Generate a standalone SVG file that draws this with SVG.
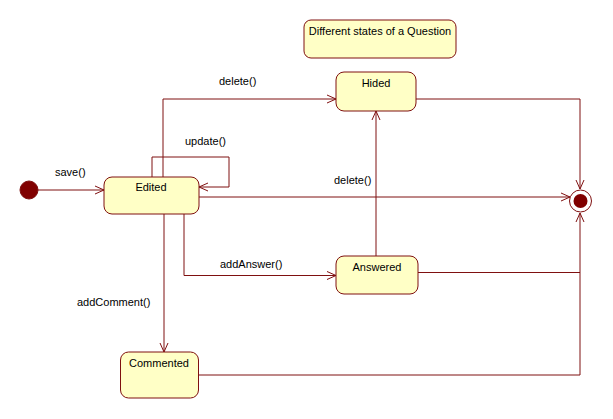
<svg xmlns="http://www.w3.org/2000/svg" width="613" height="419" viewBox="0 0 613 419">
<style>
.st{fill:#ffffc6;stroke:#7f1010;stroke-width:1}
.ln{fill:none;stroke:#7f1010;stroke-width:1}
text{font-family:"Liberation Sans",Arial,sans-serif;font-size:11px;fill:#000}
.c{text-anchor:middle}
</style>
<defs>
<marker id="ar" viewBox="0 0 10 10" refX="10" refY="5" markerWidth="10" markerHeight="10" markerUnits="userSpaceOnUse" orient="auto">
<path d="M1,1 L10,5 L1,9" fill="none" stroke="#7f1010" stroke-width="1"/>
</marker>
</defs>
<rect width="613" height="419" fill="#fff"/>
<g id="connectors">
<line class="ln" x1="38" y1="190" x2="104" y2="190" marker-end="url(#ar)"/>
<polyline class="ln" points="152,177 152,157 229,157 229,187 199,187" marker-end="url(#ar)"/>
<polyline class="ln" points="163,177 163,99 336,99" marker-end="url(#ar)"/>
<line class="ln" x1="199" y1="197" x2="570" y2="197" marker-end="url(#ar)"/>
<polyline class="ln" points="184,214 184,275.5 336,275.5" marker-end="url(#ar)"/>
<line class="ln" x1="164" y1="214" x2="164" y2="352" marker-end="url(#ar)"/>
<line class="ln" x1="376" y1="256" x2="376" y2="111" marker-end="url(#ar)"/>
<polyline class="ln" points="416,99 580,99 580,189" marker-end="url(#ar)"/>
<polyline class="ln" points="418,272.5 580,272.5"/>
<polyline class="ln" points="199,375 580,375 580,213" marker-end="url(#ar)"/>
<text x="55" y="176">save()</text>
<text x="185" y="145">update()</text>
<text x="219" y="85">delete()</text>
<text x="334" y="184">delete()</text>
<text x="220" y="268">addAnswer()</text>
<text x="77" y="306">addComment()</text>
</g>
<g id="initial"><circle cx="29" cy="190" r="9" fill="#800000" stroke="#7f1010"/></g>
<g id="final"><circle cx="580.5" cy="201" r="11" fill="#fff" stroke="#7f1010"/><circle cx="580.5" cy="201" r="7" fill="#800000"/></g>
<g id="note"><rect class="st" x="304" y="20" width="152" height="38" rx="7"/><text class="c" x="380" y="35">Different states of a Question</text></g>
<g id="edited"><rect class="st" x="104" y="177" width="95" height="37" rx="8"/><text class="c" x="151" y="191">Edited</text></g>
<g id="hided"><rect class="st" x="336" y="72" width="80" height="39" rx="8"/><text class="c" x="376" y="87">Hided</text></g>
<g id="answered"><rect class="st" x="336" y="256" width="82" height="38" rx="8"/><text class="c" x="377" y="271">Answered</text></g>
<g id="commented"><rect class="st" x="120.5" y="352" width="78" height="46" rx="8"/><text class="c" x="159" y="367">Commented</text></g>
</svg>
